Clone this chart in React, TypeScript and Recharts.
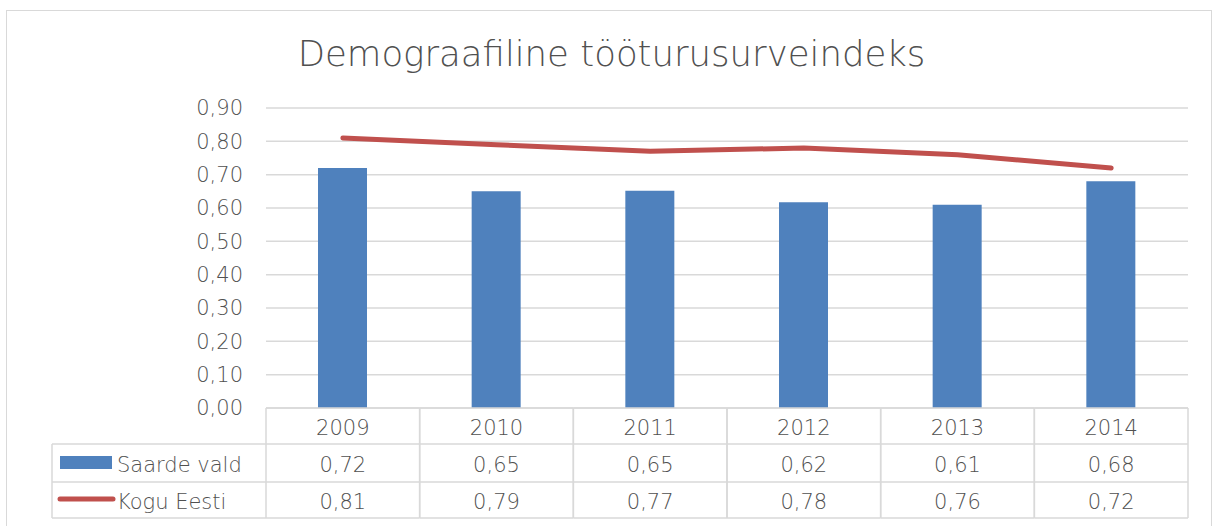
import { ComposedChart, Bar, Line, XAxis, YAxis, CartesianGrid } from "recharts";

const years = ["2009", "2010", "2011", "2012", "2013", "2014"];
const saardeVald = [0.72, 0.65, 0.652, 0.617, 0.61, 0.68];
const koguEesti = [0.81, 0.79, 0.77, 0.78, 0.76, 0.72];
const yTicks = [0, 0.1, 0.2, 0.3, 0.4, 0.5, 0.6, 0.7, 0.8, 0.9];

const data = years.map((year, i) => ({ year, saarde: saardeVald[i], kogu: koguEesti[i] }));

const W = 1217;
const H = 526;
const PLOT_LEFT = 266;
const PLOT_RIGHT = 1188;
const CELL_W = (PLOT_RIGHT - PLOT_LEFT) / years.length;
const LEGEND_LEFT = 52;
const FONT = "'DejaVu Sans', sans-serif";
const FS = 21;
const TEXT = "#505050";
const GRID = "#d9d9d9";
const BLUE = "#4f81bd";
const RED = "#c0504d";

const fmt = (v: number) => v.toFixed(2).replace(".", ",");

function TableTick(props: any) {
  const { x, y, payload, index } = props;
  const left = x - CELL_W / 2;
  const right = x + CELL_W / 2;
  const rows = [y + 36, y + 74, y + 110];
  const i = index as number;
  const txt = { fill: TEXT, fontSize: FS, fontFamily: FONT, fontWeight: 300 };
  return (
    <g>
      <line x1={left} x2={right} y1={y} y2={y} stroke={GRID} strokeWidth={1.5} />
      {rows.map((ry) => (
        <line key={ry} x1={left} x2={right} y1={ry} y2={ry} stroke={GRID} strokeWidth={1.5} />
      ))}
      <line x1={left} x2={left} y1={y} y2={y + 110} stroke={GRID} strokeWidth={1.5} />
      <line x1={right} x2={right} y1={y} y2={y + 110} stroke={GRID} strokeWidth={1.5} />
      <text x={x} y={y + 27} textAnchor="middle" {...txt}>
        {payload.value}
      </text>
      <text x={x} y={y + 64} textAnchor="middle" {...txt}>
        {fmt(saardeVald[i])}
      </text>
      <text x={x} y={y + 101} textAnchor="middle" {...txt}>
        {fmt(koguEesti[i])}
      </text>
      {i === 0 && (
        <g>
          {rows.map((ry) => (
            <line key={ry} x1={LEGEND_LEFT} x2={left} y1={ry} y2={ry} stroke={GRID} strokeWidth={1.5} />
          ))}
          <line x1={LEGEND_LEFT} x2={LEGEND_LEFT} y1={y + 36} y2={y + 110} stroke={GRID} strokeWidth={1.5} />
          <rect x={LEGEND_LEFT + 8} y={y + 48} width={52} height={13} fill={BLUE} />
          <text x={LEGEND_LEFT + 65} y={y + 64} {...txt}>
            Saarde vald
          </text>
          <line
            x1={LEGEND_LEFT + 8}
            x2={LEGEND_LEFT + 61}
            y1={y + 91}
            y2={y + 91}
            stroke={RED}
            strokeWidth={5}
            strokeLinecap="round"
          />
          <text x={LEGEND_LEFT + 65} y={y + 101} {...txt}>
            Kogu Eesti
          </text>
        </g>
      )}
    </g>
  );
}

export default function App() {
  return (
    <div style={{ position: "absolute", left: 0, top: 0, width: W, height: H, background: "#fff", overflow: "hidden" }}>
      <div
        style={{
          position: "absolute",
          left: 6,
          top: 10,
          width: 1206,
          height: 540,
          border: `1.5px solid ${GRID}`,
          boxSizing: "border-box",
        }}
      />
      <div
        style={{
          position: "absolute",
          left: 3,
          top: 33,
          width: W,
          textAlign: "center",
          fontFamily: FONT,
          fontWeight: 300,
          fontSize: 35.5,
          color: TEXT,
          lineHeight: "42px",
        }}
      >
        Demograafiline tööturusurveindeks
      </div>
      <div style={{ position: "absolute", left: 0, top: 0 }}>
        <ComposedChart
          width={W}
          height={H}
          data={data}
          margin={{ top: 108, right: W - PLOT_RIGHT, bottom: 0, left: 0 }}
          barCategoryGap="34%"
        >
          <CartesianGrid vertical={false} stroke={GRID} strokeWidth={1.5} />
          <YAxis
            width={PLOT_LEFT}
            domain={[0, 0.9]}
            ticks={yTicks}
            interval={0}
            axisLine={false}
            tickLine={false}
            tickSize={0}
            tickMargin={23}
            tickFormatter={(v: number) => fmt(v)}
            tick={{ fill: TEXT, fontSize: FS, fontFamily: FONT, fontWeight: 300 }}
          />
          <XAxis
            dataKey="year"
            height={118}
            axisLine={false}
            tickLine={false}
            tickSize={0}
            tickMargin={0}
            interval={0}
            tick={<TableTick />}
          />
          <Bar dataKey="saarde" fill={BLUE} barSize={49} isAnimationActive={false} />
          <Line
            dataKey="kogu"
            stroke={RED}
            strokeWidth={5}
            strokeLinecap="round"
            dot={false}
            isAnimationActive={false}
          />
        </ComposedChart>
      </div>
    </div>
  );
}
